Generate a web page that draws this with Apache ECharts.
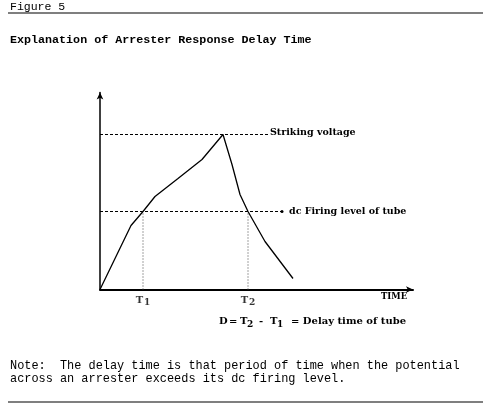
<!DOCTYPE html>
<html><head><meta charset="utf-8">
<script src="https://cdn.jsdelivr.net/npm/echarts@6/dist/echarts.min.js"></script>
<style>html,body{margin:0;padding:0;background:#fff}#c{width:491px;height:409px}</style>
</head><body><div id="c"></div>
<script>
// Curve (time, potential) in arbitrary units
const curveX = [0, 31, 43, 55, 78, 102, 123, 132, 140, 148, 165, 193];
const curveY = [0, 64, 78, 93, 111, 130, 155, 125, 95, 78, 48, 11];
const strikingLevel = 155;
const firingLevel = 78;
const strikingLineEnd = 170;
const firingLineEnd = 182;
const t1 = 43, t2 = 148;
const tLabels = ['1', '2'];
const xMax = 313, yMax = 197;

const chart = echarts.init(document.getElementById('c'));
const serif = '"DejaVu Serif", serif';
const mono = '"Liberation Mono", monospace';
const curveData = curveX.map((x, i) => [x, curveY[i]]);
const last = curveData.length - 1;
curveData[last] = {value: curveData[last], symbol: 'arrow', symbolSize: [5, 6], symbolRotate: -143};

chart.setOption({
  animation: false,
  grid: {left: 100, top: 92.5, width: 313, height: 197},
  xAxis: {type: 'value', min: 0, max: xMax, splitLine: {show: false}, axisTick: {show: false}, axisLabel: {show: false},
    axisLine: {lineStyle: {color: '#000', width: 2}, symbol: ['none', 'arrow'], symbolSize: [5, 7]}},
  yAxis: {type: 'value', min: 0, max: yMax, splitLine: {show: false}, axisTick: {show: false}, axisLabel: {show: false},
    axisLine: {lineStyle: {color: '#000', width: 1.5}, symbol: ['none', 'arrow'], symbolSize: [5, 7]}},
  series: [
    {type: 'line', data: curveData, showSymbol: false, symbol: 'none', lineStyle: {color: '#000', width: 1.3}, z: 5,
      itemStyle: {color: '#000'}},
    {type: 'line', name: 'Striking voltage', data: [[0, strikingLevel], [strikingLineEnd, strikingLevel]], symbol: 'none',
      lineStyle: {color: '#000', width: 1, type: [3, 2]},
      endLabel: {show: true, formatter: 'Striking voltage', distance: 0, color: '#000', fontFamily: serif, fontWeight: 'bold', fontSize: 9.5, offset: [0, -2]}},
    {type: 'line', name: 'dc Firing level of tube', data: [[0, firingLevel], {value: [firingLineEnd, firingLevel], symbol: 'circle', symbolSize: 3}],
      showSymbol: true, symbol: 'none', itemStyle: {color: '#000'},
      lineStyle: {color: '#000', width: 1, type: [3, 2]},
      endLabel: {show: true, formatter: 'dc Firing level of tube', distance: 7, color: '#000', fontFamily: serif, fontWeight: 'bold', fontSize: 9.5}},
    {type: 'line', data: [[t1, 0], [t1, firingLevel]], symbol: 'none', lineStyle: {color: '#444', width: 1, type: [1, 2]}},
    {type: 'line', data: [[t2, 0], [t2, firingLevel]], symbol: 'none', lineStyle: {color: '#444', width: 1, type: [1, 2]}},
    {type: 'scatter', symbolSize: 0, data: [[t1, 0], [t2, 0]],
      label: {show: true, position: 'bottom', distance: 4, color: '#000',
        formatter: p => '{t|T}{s|' + tLabels[p.dataIndex] + '}',
        rich: {t: {fontFamily: serif, fontWeight: 'bold', fontSize: 10}, s: {fontFamily: serif, fontWeight: 'bold', fontSize: 9, padding: [5, 0, 0, 1]}}}}
  ],
  graphic: [
    {type: 'text', left: 10, top: 1, style: {text: 'Figure 5', font: '11.5px ' + mono, fill: '#000'}},
    {type: 'line', shape: {x1: 8, y1: 13, x2: 483, y2: 13}, style: {stroke: '#000', lineWidth: 1.2}},
    {type: 'text', left: 10, top: 34, style: {text: 'Explanation of Arrester Response Delay Time', font: 'bold 11.7px ' + mono, fill: '#000'}},
    {type: 'text', left: 381, top: 292, style: {text: 'TIME', font: 'bold 8.5px ' + serif, fill: '#000'}},
    {type: 'text', left: 219, top: 316, style: {text: 'D', font: 'bold 10px ' + serif, fill: '#000'}},
    {type: 'text', left: 229, top: 316, style: {text: '=', font: 'bold 10px ' + serif, fill: '#000'}},
    {type: 'text', left: 240, top: 316, style: {text: 'T', font: 'bold 10px ' + serif, fill: '#000'}},
    {type: 'text', left: 247, top: 320, style: {text: '2', font: 'bold 9px ' + serif, fill: '#000'}},
    {type: 'text', left: 259, top: 316, style: {text: '-', font: 'bold 10px ' + serif, fill: '#000'}},
    {type: 'text', left: 270, top: 316, style: {text: 'T', font: 'bold 10px ' + serif, fill: '#000'}},
    {type: 'text', left: 277, top: 320, style: {text: '1', font: 'bold 9px ' + serif, fill: '#000'}},
    {type: 'text', left: 291, top: 316, style: {text: '= Delay time of tube', font: 'bold 10px ' + serif, fill: '#000'}},
    {type: 'text', left: 10, top: 359, style: {text: 'Note:  The delay time is that period of time when the potential\nacross an arrester exceeds its dc firing level.', font: '11.9px ' + mono, fill: '#000', lineHeight: 13}},
    {type: 'line', shape: {x1: 8, y1: 402, x2: 483, y2: 402}, style: {stroke: '#000', lineWidth: 1.2}}
  ]
});
</script></body></html>
